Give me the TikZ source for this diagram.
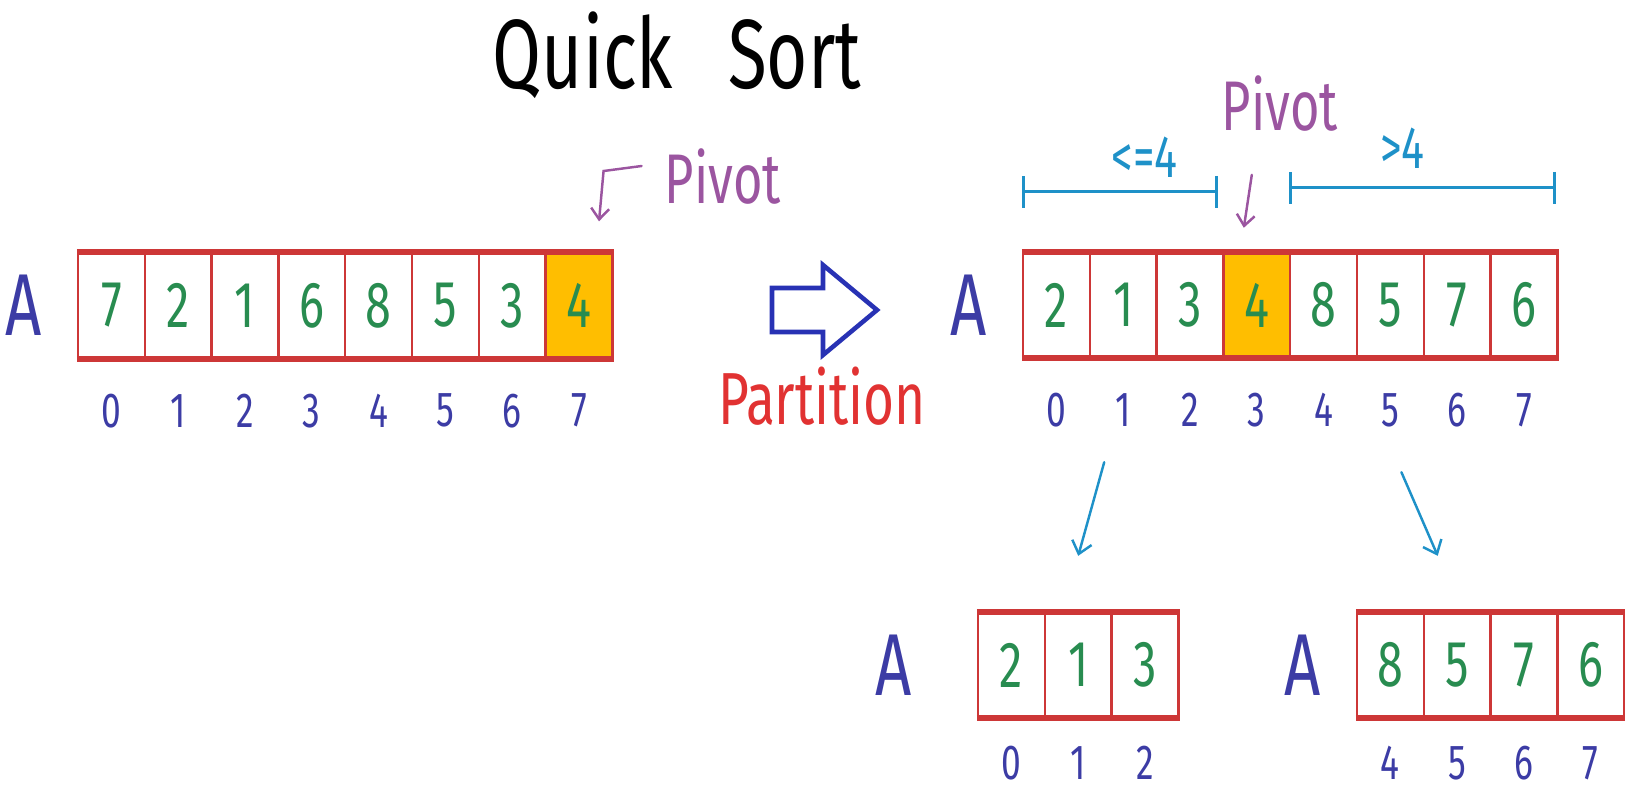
\documentclass[tikz,border=0pt]{standalone}
\usepackage{fontspec}
\setmainfont{Fira Sans}[FakeStretch=0.72]
\usepackage{tikz}
\usetikzlibrary{arrows.meta, positioning, calc}

\definecolor{cellred}{RGB}{205,55,55}
\definecolor{pivfill}{RGB}{255,190,0}
\definecolor{digitgreen}{RGB}{40,140,80}
\definecolor{idxblue}{RGB}{60,60,165}
\definecolor{pivpurple}{RGB}{155,85,160}
\definecolor{spancyan}{RGB}{30,145,200}
\definecolor{arrowblue}{RGB}{40,50,180}
\definecolor{partred}{RGB}{225,50,50}

\begin{document}
\begin{tikzpicture}[
  x=0.02cm, y=-0.02cm,
  cell/.style={rectangle, draw=cellred, line width=1.4pt, minimum width=1.336cm,
    minimum height=2.08cm, inner sep=0pt, text=digitgreen,
    font=\fontsize{37}{40}\selectfont},
  pivcell/.style={cell, fill=pivfill},
  rim/.style={cellred, line width=3.2pt},
  idx/.style={text=idxblue, inner sep=0pt, font=\fontsize{28}{30}\selectfont},
  arrname/.style={text=idxblue, inner sep=0pt, font=\fontsize{50}{52}\selectfont},
  pivlbl/.style={text=pivpurple, inner sep=0pt, font=\fontsize{40}{42}\selectfont},
  pivarrow/.style={pivpurple, line width=1.4pt, line cap=round,
    -{Straight Barb[length=0.22cm, width=0.36cm]}},
  span/.style={spancyan, line width=1.6pt, {Bar[width=0.64cm]}-{Bar[width=0.64cm]}},
  spanlbl/.style={text=spancyan, inner sep=0pt, font=\fontsize{34}{36}\selectfont},
  splitarrow/.style={spancyan, line width=1.4pt, line cap=round,
    -{Straight Barb[length=0.24cm, width=0.4cm]}},
  bigarrow/.style={draw=arrowblue, line width=2.6pt, line join=miter}
]
\useasboundingbox (0,0) rectangle (1625,795);

% title
\node[font=\fontsize{56}{58}\selectfont, inner sep=0pt] (ttl) at (677,55) {Quick\hspace{1.1cm}Sort};

% input array
\foreach \v [count=\i from 0] in {7,2,1,6,8,5,3}
  \node[cell] (L\i) at (111.4+66.8*\i,305.5) {\v};
\node[pivcell] (L7) at (111.4+66.8*7,305.5) {4};
\draw[rim] (L0.north west) -- (L7.north east);
\draw[rim] (L0.south west) -- (L7.south east);
\foreach \i in {0,...,7}
  \node[idx] (iL\i) at ([yshift=-1.04cm]L\i.south) {\i};
\node[arrname, left=0.7cm of L0] (aL) {A};

\node[pivlbl] (pivL) at (723,177) {Pivot};
\draw[pivarrow] ([xshift=-0.46cm,yshift=0.22cm]pivL.west) -- ++(-38,5)
  -- ([xshift=0.4cm,yshift=0.62cm]L7.north);

% partition step
\draw[bigarrow] (772,288) -- (823,288) -- (823,265) -- (877,310) -- (823,355)
  -- (823,332) -- (772,332) -- cycle;
\node[text=partred, inner sep=0pt, font=\fontsize{42}{44}\selectfont] (part) at (822,396) {Partition};

% partitioned array
\foreach \v [count=\i from 0] in {2,1,3}
  \node[cell] (R\i) at (1056.4+66.8*\i,305) {\v};
\node[pivcell] (R3) at (1056.4+66.8*3,305) {4};
\foreach \v [count=\i from 4] in {8,5,7,6}
  \node[cell] (R\i) at (1056.4+66.8*\i,305) {\v};
\draw[rim] (R0.north west) -- (R7.north east);
\draw[rim] (R0.south west) -- (R7.south east);
\foreach \i in {0,...,7}
  \node[idx] (iR\i) at ([yshift=-1.04cm]R\i.south) {\i};
\node[arrname, left=0.7cm of R0] (aR) {A};

\draw[span] ([yshift=1.2cm]R0.north west)
  -- node[spanlbl, above=0.25cm, xshift=0.5cm] (le) {<=4} ([xshift=-0.14cm,yshift=1.2cm]R2.north east);
\draw[span] ([yshift=1.28cm]R4.north west)
  -- node[spanlbl, above=0.35cm, xshift=-0.4cm] (gt) {>4} ([xshift=-0.06cm,yshift=1.28cm]R7.north east);
\node[pivlbl] (pivR) at (1280,104) {Pivot};
\draw[pivarrow] ([xshift=-0.1cm,yshift=1.54cm]R3.north) -- ([xshift=-0.26cm,yshift=0.48cm]R3.north);

% sub arrays
\foreach \v [count=\i from 0] in {2,1,3}
  \node[cell] (BL\i) at (1011.4+66.8*\i,665) {\v};
\draw[rim] (BL0.north west) -- (BL2.north east);
\draw[rim] (BL0.south west) -- (BL2.south east);
\foreach \i in {0,1,2}
  \node[idx] (iBL\i) at ([yshift=-0.9cm]BL\i.south) {\i};
\node[arrname, left=1.3cm of BL0] (aBL) {A};

\foreach \v [count=\i from 0] in {8,5,7,6}
  \node[cell] (BR\i) at (1390.4+66.8*\i,665) {\v};
\draw[rim] (BR0.north west) -- (BR3.north east);
\draw[rim] (BR0.south west) -- (BR3.south east);
\foreach \k [count=\i from 0] in {4,5,6,7}
  \node[idx] (iBR\i) at ([yshift=-0.9cm]BR\i.south) {\k};
\node[arrname, left=0.7cm of BR0] (aBR) {A};

\draw[splitarrow] ([xshift=-0.38cm,yshift=-2.08cm]R1.south) -- ([yshift=1.12cm]BL1.north);
\draw[splitarrow] ([xshift=0.22cm,yshift=-2.28cm]R5.south) -- ([xshift=-0.39cm,yshift=1.12cm]BR1.north);
\end{tikzpicture}
\end{document}
